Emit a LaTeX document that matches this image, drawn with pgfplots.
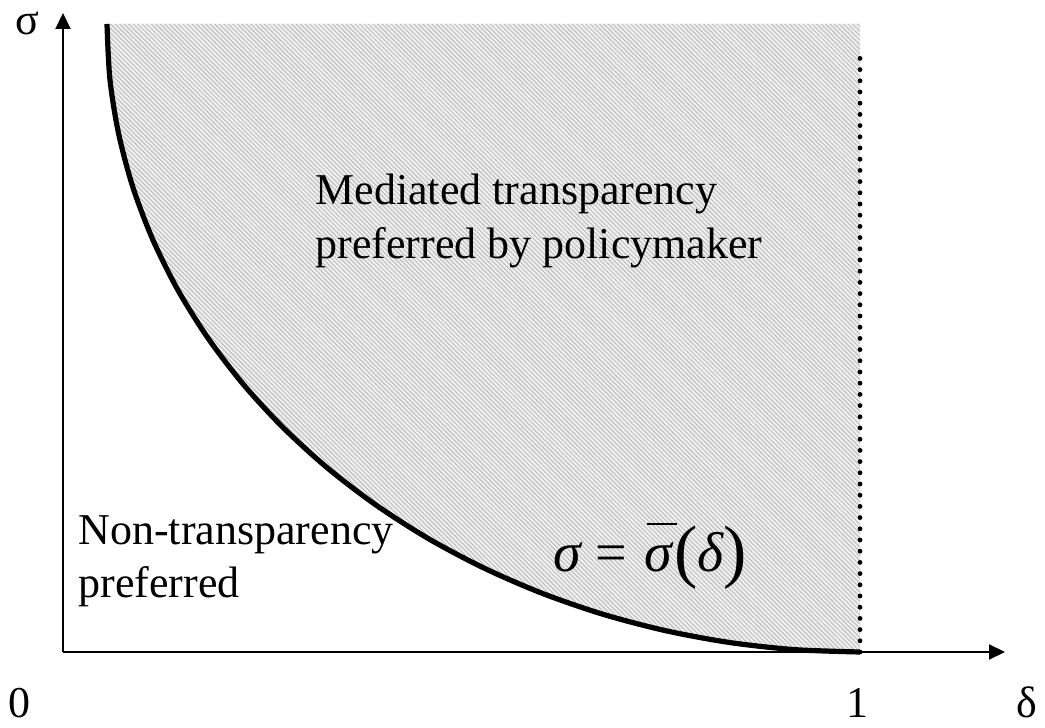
\documentclass[border=0pt]{standalone}
\usepackage{fontspec}
\setmainfont{Liberation Serif}
\usepackage{pgfplots}
\pgfplotsset{compat=1.18}
\usepgfplotslibrary{fillbetween}
\usetikzlibrary{arrows.meta,patterns.meta}

% boundary sigma = sigma-bar(delta)
\pgfplotstableread{
x y
0.0552 1.0000
0.0588 0.9128
0.0696 0.8264
0.0874 0.7412
0.1122 0.6580
0.1437 0.5774
0.1818 0.5000
0.2261 0.4264
0.2763 0.3572
0.3319 0.2929
0.3927 0.2340
0.4581 0.1808
0.5276 0.1340
0.6007 0.0937
0.6769 0.0603
0.7555 0.0341
0.8359 0.0152
0.9177 0.0038
1.0000 0.0000
}\boundary

\begin{document}
\begin{tikzpicture}
\begin{axis}[
  at={(0,0)}, anchor=origin,
  scale only axis, width=471pt, height=319.5pt,
  xmin=0, xmax=1.1819, ymin=0, ymax=1.0175,
  axis lines=left,
  axis line style={line width=1pt, -{Triangle[length=8pt,width=7.5pt]}},
  xtick=\empty, ytick=\empty,
  clip=false
]
\addplot[draw=none, name path=top, forget plot] coordinates {(0.0552,1) (1,1)};
\addplot[draw=none, name path=curve, smooth, forget plot] table {\boundary};
\addplot[fill=black!6, draw=none, forget plot] fill between[of=curve and top];
\addplot[draw=none, pattern={Lines[angle=-45,distance=1.6pt,line width=0.5pt]},
  pattern color=black!26, forget plot] fill between[of=curve and top];
\addplot[line width=2.4pt, line cap=round, dash pattern=on 0pt off 5.6pt]
  coordinates {(1,0) (1,0.963)};
\addplot[line width=2.6pt, smooth] table {\boundary};
\end{axis}
\begin{scope}[every node/.style={inner sep=0pt, font=\fontsize{22}{26}\selectfont}]
\node[anchor=base west] at (126pt,223.5pt) {Mediated transparency};
\node[anchor=base west] at (126pt,196.5pt) {preferred by policymaker};
\node[anchor=base west] at (7.5pt,53.5pt) {Non-transparency};
\node[anchor=base west] at (7.5pt,27pt) {preferred};
\node[anchor=base] at (-21.5pt,-33pt) {0};
\node[anchor=base] at (397pt,-33pt) {1};
\node[anchor=base] at (482pt,-33pt) {δ};
\node[anchor=base] at (-18pt,308.5pt) {σ};
\node[anchor=base west, font=\fontsize{28}{32}\selectfont] at (245pt,40pt)
  {\itshape σ\hspace{7pt}{\upshape =}\hspace{9pt}\makebox[0pt][l]{\hspace{1pt}\raisebox{23.5pt}{\rule{15pt}{1pt}}}σ\hspace{1pt}{\upshape\fontsize{35}{40}\selectfont\raisebox{-1.5pt}{(}}δ{\upshape\fontsize{35}{40}\selectfont\raisebox{-1.5pt}{)}}};
\end{scope}
\path (-31.5pt,-38pt) rectangle (491pt,326pt);
\end{tikzpicture}
\end{document}
